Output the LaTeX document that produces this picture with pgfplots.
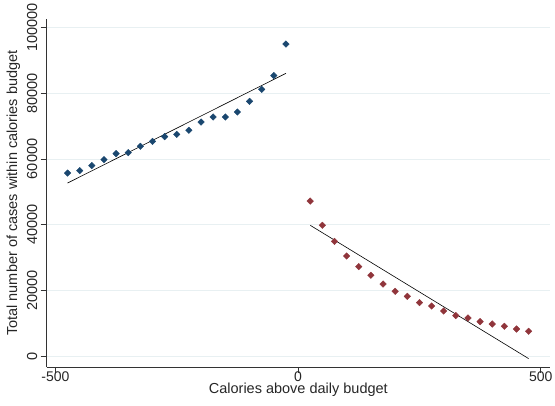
\documentclass[border=0pt]{standalone}
\usepackage{pgfplots}
\pgfplotsset{compat=1.18}
\usepackage{fontspec}
\setmainfont{Liberation Sans}
\definecolor{snavy}{RGB}{26,71,111}
\definecolor{smaroon}{RGB}{144,53,59}
\definecolor{sgrid}{RGB}{232,240,242}
\begin{document}
\begin{tikzpicture}
\begin{axis}[
  scale only axis,
  width=503.3pt, height=347.7pt,
  xmin=-518, xmax=519,
  ymin=-3350, ymax=102500,
  axis lines*=left,
  axis line style={black!80, line width=0.8pt},
  xtick={-500,0,500},
  xticklabels={-500,0,500},
  ytick={0,20000,40000,60000,80000,100000},
  yticklabels={0,20000,40000,60000,80000,100000},
  scaled y ticks=false,
  scaled x ticks=false,
  tick align=outside,
  major tick length=6pt,
  tick style={black!80, line width=0.8pt},
  ymajorgrids,
  grid style={sgrid, line width=0.8pt},
  ticklabel style={font=\fontsize{14.5}{16}\selectfont, text=black!85},
  xticklabel style={font=\fontsize{14}{15}\selectfont, inner sep=0.5pt, yshift=2pt},
  yticklabel style={rotate=90, anchor=south},
  label style={font=\fontsize{14.5}{16}\selectfont, text=black!85},
  xlabel={Calories above daily budget},
  xlabel style={inner sep=0.5pt, yshift=-0.5pt},
  ylabel={Total number of cases within calories budget},
  clip=false,
]
% below-budget bins
\addplot[only marks, mark=square*, mark options={rotate=45, fill=snavy, draw=snavy}, mark size=2.3pt]
coordinates {
(-475,55700) (-450,56440) (-425,57960) (-400,59790) (-375,61610)
(-350,61920) (-325,63840) (-300,65360) (-275,66790) (-250,67490)
(-225,68710) (-200,71230) (-175,72760) (-150,72760) (-125,74280)
(-100,77530) (-75,81190) (-50,85360) (-25,94980)
};
% above-budget bins
\addplot[only marks, mark=square*, mark options={rotate=45, fill=smaroon, draw=smaroon}, mark size=2.3pt]
coordinates {
(25,47180) (50,39790) (75,34920) (100,30440) (125,27210)
(150,24570) (175,21920) (200,19700) (225,18170) (250,16260)
(275,15220) (300,13700) (325,12300) (350,11570) (375,10470)
(400,9740) (425,9040) (450,8220) (475,7520)
};
% linear fits on each side
\addplot[black, line width=0.6pt] coordinates {(-475,52660) (-25,86060)};
\addplot[black, line width=0.6pt] coordinates {(25,39790) (475,-790)};
\end{axis}
\path[use as bounding box] (-46.7pt,-38.3pt) rectangle (508.3pt,357.7pt);
\end{tikzpicture}
\end{document}
